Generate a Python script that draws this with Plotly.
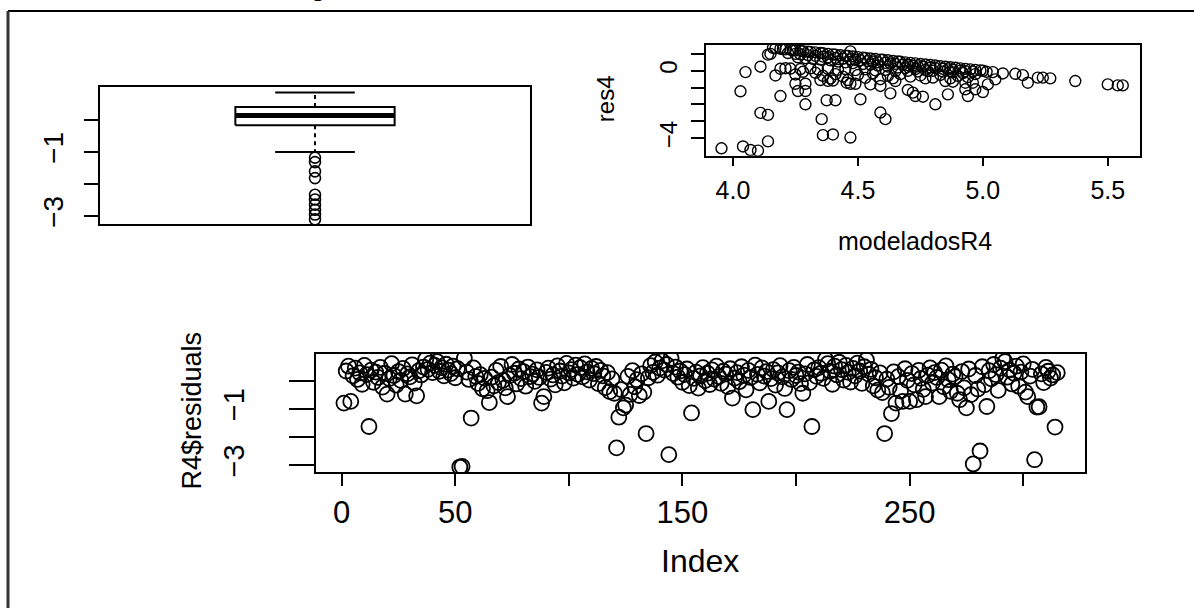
import plotly.graph_objects as go

# ---------------- data ----------------
# residuals of model R4 (bottom panel, index 1..315)
residuals_r4 = [
    -0.79, 0.35, 0.52, -0.73, 0.18, 0.45, 0.05, 0.28, -0.12, 0.55, 0.22, -1.62, 0.38, -0.05, 0.31,
    0.12, 0.48, -0.22, 0.27, -0.47, 0.08, 0.61, 0.19, -0.15, 0.33, 0.02, 0.44, -0.47, 0.25, 0.14,
    0.57, -0.08, -0.53, 0.36, 0.21, 0.49, 0.76, 0.41, 0.63, 0.29, 0.55, 0.68, 0.34, 0.47, 0.18,
    0.59, 0.38, 0.26, 0.52, 0.11, 0.43, -3.06, -3.04, 0.80, 0.31, 0.05, -1.32, 0.46, 0.16, -0.09,
    0.22, -0.28, 0.09, -0.35, -0.77, 0.13, -0.18, 0.37, -0.06, 0.51, 0.02, -0.25, -0.56, 0.19, 0.58,
    0.27, -0.11, 0.42, 0.08, 0.33, -0.19, 0.49, 0.15, 0.24, -0.02, 0.39, 0.12, -0.79, -0.56, 0.30,
    0.45, 0.06, 0.21, -0.14, 0.53, 0.35, 0.17, -0.07, 0.62, 0.28, 0.40, 0.10, 0.56, 0.23, 0.47,
    0.14, 0.60, 0.32, 0.03, 0.44, 0.26, 0.51, -0.10, 0.37, 0.18, -0.24, 0.29, -0.38, 0.07, -0.44,
    -2.38, -1.29, -0.31, -0.96, -0.86, 0.16, -0.48, 0.36, -0.21, 0.04, -0.52, 0.25, -0.40, -1.87, 0.11,
    0.54, 0.30, 0.67, 0.20, 0.45, 0.71, 0.38, 0.58, -2.62, 0.80, 0.26, 0.49, 0.13, 0.35, -0.05,
    0.22, 0.42, -0.17, -1.14, 0.09, 0.31, -0.26, 0.18, 0.47, 0.01, 0.27, -0.13, 0.39, 0.06, 0.52,
    0.15, -0.09, 0.34, 0.24, -0.20, 0.43, -0.61, 0.10, 0.29, -0.03, 0.50, 0.20, -0.32, 0.37, 0.12,
    -1.02, 0.56, 0.23, -0.07, 0.46, 0.17, 0.33, -0.73, 0.08, 0.40, -0.15, 0.28, 0.54, 0.14, -0.27,
    -1.02, 0.36, 0.05, 0.48, 0.19, 0.31, -0.10, -0.44, 0.25, 0.58, -0.06, -1.62, 0.39, 0.16, 0.47,
    0.27, 0.09, 0.76, 0.61, 0.34, -0.12, 0.52, 0.21, 0.66, 0.40, 0.03, 0.55, 0.30, -0.04, 0.44,
    0.18, 0.63, 0.35, -0.09, 0.50, 0.74, 0.24, 0.41, -0.18, 0.11, -0.33, 0.28, -0.42, -1.87, 0.06,
    -0.23, -1.16, 0.32, -0.79, 0.15, -0.36, -0.73, 0.43, 0.02, -0.73, 0.26, -0.14, -0.67, 0.37, 0.09,
    -0.30, -0.56, 0.20, 0.46, -0.08, 0.29, 0.12, -0.56, 0.38, -0.21, 0.53, 0.04, -0.37, 0.24, 0.15,
    -0.44, -0.67, 0.33, -0.25, -0.96, 0.42, -0.49, -2.95, 0.19, -0.29, -2.49, 0.50, -0.14, -0.91, 0.36,
    0.07, 0.58, 0.22, -0.34, 0.45, 0.80, 0.68, 0.13, 0.38, -0.11, 0.27, 0.52, -0.19, 0.31, 0.60,
    -0.40, -0.56, 0.17, 0.41, -2.80, -0.93, -0.92, 0.25, -0.06, 0.48, 0.34, 0.10, 0.21, -1.64, 0.29,
]
index_r4 = list(range(1, len(residuals_r4) + 1))

# boxplot statistics
box_whisker_low = -0.99
box_q1 = -0.16
box_median = 0.15
box_q3 = 0.41
box_whisker_high = 0.87
box_outliers = [-1.17, -1.31, -1.60, -1.81, -2.33, -2.48, -2.64, -2.80, -2.95, -3.10]

# res4 vs modeladosR4 (top-right panel)
modelados_r4 = [
    4.16, 4.17, 4.19, 4.20, 4.21, 4.23, 4.24, 4.25, 4.27, 4.28, 4.30, 4.31, 4.33, 4.35, 4.36, 4.38,
    4.40, 4.41, 4.43, 4.45, 4.46, 4.48, 4.50, 4.52, 4.53, 4.55, 4.57, 4.59, 4.60, 4.62, 4.64, 4.66,
    4.67, 4.69, 4.71, 4.73, 4.75, 4.77, 4.79, 4.81, 4.83, 4.85, 4.87, 4.89, 4.91, 4.93, 4.95, 4.97,
    4.99, 5.00,
    4.22, 4.25, 4.27, 4.30, 4.33, 4.36, 4.38, 4.41, 4.44, 4.47, 4.49, 4.51, 4.54, 4.56, 4.58, 4.61,
    4.63, 4.65, 4.68, 4.70, 4.72, 4.74, 4.76, 4.79, 4.81, 4.84, 4.86, 4.88, 4.91, 4.93, 4.96,
    4.26, 4.29, 4.32, 4.35, 4.39, 4.42, 4.45, 4.48, 4.52, 4.55, 4.58, 4.62, 4.66, 4.69, 4.73, 4.77,
    4.80, 4.84, 4.88, 4.92,
    4.19, 4.21, 4.23, 4.27, 4.31, 4.34, 4.38, 4.42, 4.45, 4.49, 4.53, 4.57, 4.61, 4.65, 4.70, 4.74,
    4.78,
    4.25, 4.28, 4.33, 4.36, 4.39, 4.41, 4.44, 4.46, 4.50, 4.53, 4.56, 4.59, 4.62, 4.64, 4.67, 4.71,
    4.75, 4.80, 4.83, 4.87, 4.90, 4.94, 4.97,
    4.35, 4.38, 4.40, 4.455, 4.47, 4.49, 4.55, 4.59, 4.65, 4.85, 4.88, 4.93, 4.96, 5.02,
    3.954, 4.04, 4.07, 4.10, 4.14, 4.11, 4.14, 4.03, 4.05, 4.11, 4.14, 4.15, 4.17, 4.19, 4.25, 4.26,
    4.29, 4.29, 4.29, 4.355, 4.375, 4.41, 4.36, 4.40, 4.47, 4.51, 4.59, 4.61, 4.63, 4.70, 4.72, 4.73,
    4.76, 4.77, 4.81, 4.86, 4.93, 4.94, 4.97, 5.00, 5.015, 5.04, 5.05, 5.08, 5.13, 5.16, 5.18, 5.22,
    5.24, 5.27, 5.37, 5.50, 5.54, 5.56, 4.47,
]
res4 = [
    1.36, 1.33, 1.31, 1.29, 1.27, 1.25, 1.22, 1.21, 1.18, 1.16, 1.13, 1.12, 1.09, 1.05, 1.04, 1.00,
    0.97, 0.96, 0.92, 0.89, 0.88, 0.85, 0.81, 0.78, 0.76, 0.73, 0.70, 0.66, 0.65, 0.62, 0.58, 0.55,
    0.53, 0.50, 0.47, 0.44, 0.40, 0.37, 0.34, 0.31, 0.27, 0.24, 0.21, 0.18, 0.14, 0.11, 0.08, 0.05,
    0.02, 0.00,
    1.05, 1.00, 0.98, 0.93, 0.88, 0.84, 0.80, 0.76, 0.72, 0.68, 0.64, 0.62, 0.57, 0.55, 0.50, 0.47,
    0.43, 0.41, 0.36, 0.33, 0.30, 0.26, 0.24, 0.19, 0.16, 0.12, 0.08, 0.05, 0.01, -0.02, -0.05,
    0.80, 0.75, 0.70, 0.66, 0.62, 0.55, 0.50, 0.45, 0.40, 0.36, 0.31, 0.25, 0.19, 0.15, 0.10, 0.05,
    0.00, -0.05, -0.10, -0.14,
    0.12, 0.15, 0.13, 0.10, 0.14, 0.08, 0.11, 0.06, 0.10, 0.04, 0.08, 0.02, 0.05, -0.02, 0.00, -0.04,
    -0.02,
    -0.22, -0.06, -0.12, -0.30, -0.45, -0.20, -0.35, -0.55, -0.25, -0.42, -0.15, -0.50, -0.30, -0.45,
    -0.20, -0.35, -0.28, -0.40, -0.25, -0.45, -0.30, -0.38, -0.20,
    -0.55, -0.60, -0.58, -0.71, -0.77, -0.77, -0.81, -0.90, -0.61, -0.61, -0.65, -0.71, -0.71, -0.81,
    -4.60, -4.49, -4.70, -4.74, -4.19, -2.50, -2.62, -1.22, -0.08, 0.24, 0.96, 1.00, -0.28, -1.50,
    -0.77, -1.20, -1.20, -0.77, -1.99, -2.87, -1.75, -1.75, -3.82, -3.78, -3.96, -1.69, -2.48, -2.87,
    -1.34, -1.14, -1.30, -1.50, -1.54, -0.45, -1.99, -1.40, -1.10, -1.50, -1.10, -1.26, -0.06, -0.08,
    -0.51, -0.16, -0.18, -0.26, -0.71, -0.41, -0.41, -0.45, -0.61, -0.81, -0.87, -0.87, 1.15,
]

# tick labels
box_ytick_vals = [0, -1, -2, -3]
box_ytick_text = ["", "\u22121", "", "\u22123"]
sc_xtick_vals = [4.0, 4.5, 5.0, 5.5]
sc_xtick_text = ["4.0", "4.5", "5.0", "5.5"]
sc_ytick_vals = [1, 0, -1, -2, -3, -4]
sc_ytick_text = ["", "0", "", "", "", "\u22124"]
idx_xtick_vals = [0, 50, 100, 150, 200, 250, 300]
idx_xtick_text = ["0", "50", "", "150", "", "250", ""]
idx_ytick_vals = [0, -1, -2, -3]
idx_ytick_text = ["", "\u22121", "", "\u22123"]

# ---------------- figure ----------------
W, H = 1194, 613
FONT = "Liberation Sans, Arial, sans-serif"
BLACK = "black"


def px_x(a, b):
    return [a / W, b / W]


def px_y(top, bottom):
    return [1 - bottom / H, 1 - top / H]


fig = go.Figure()

# --- boxplot (top-left) ---
line_kw = dict(color=BLACK, width=2)
fig.add_trace(go.Scatter(x=[0.8, 1.2, 1.2, 0.8, 0.8],
                         y=[box_q1, box_q1, box_q3, box_q3, box_q1],
                         mode="lines", line=line_kw, xaxis="x", yaxis="y"))
fig.add_trace(go.Scatter(x=[0.8, 1.2], y=[box_median, box_median], mode="lines",
                         line=dict(color=BLACK, width=5), xaxis="x", yaxis="y"))
for a, b in [(box_q3, box_whisker_high), (box_q1, box_whisker_low)]:
    fig.add_trace(go.Scatter(x=[1, 1], y=[a, b], mode="lines",
                             line=dict(color=BLACK, width=2, dash="4px,4px"),
                             xaxis="x", yaxis="y"))
for v in [box_whisker_high, box_whisker_low]:
    fig.add_trace(go.Scatter(x=[0.9, 1.1], y=[v, v], mode="lines", line=line_kw,
                             xaxis="x", yaxis="y"))
fig.add_trace(go.Scatter(x=[1] * len(box_outliers), y=box_outliers, mode="markers",
                         marker=dict(symbol="circle-open", size=11, color=BLACK,
                                     line=dict(width=1.6, color=BLACK)),
                         xaxis="x", yaxis="y"))

# --- res4 vs modeladosR4 (top-right) ---
fig.add_trace(go.Scatter(x=modelados_r4, y=res4, mode="markers",
                         marker=dict(symbol="circle-open", size=11, color=BLACK,
                                     line=dict(width=1.4, color=BLACK)),
                         xaxis="x2", yaxis="y2"))

# --- index plot (bottom) ---
fig.add_trace(go.Scatter(x=index_r4, y=residuals_r4, mode="markers",
                         marker=dict(symbol="circle-open", size=15, color=BLACK,
                                     line=dict(width=1.8, color=BLACK)),
                         xaxis="x3", yaxis="y3"))

frame = dict(showline=True, mirror=True, linecolor=BLACK, linewidth=2,
             showgrid=False, zeroline=False, tickcolor=BLACK, tickwidth=2,
             fixedrange=True)

fig.update_layout(
    width=W, height=H,
    margin=dict(l=0, r=0, t=0, b=0),
    paper_bgcolor="white", plot_bgcolor="white",
    showlegend=False,
    font=dict(family=FONT, color=BLACK),
    xaxis=dict(domain=px_x(100, 530), range=[0.46, 1.54], showticklabels=False,
               ticks="", anchor="y", **frame),
    yaxis=dict(domain=px_y(88, 226), range=[-3.25, 1.03], tickvals=box_ytick_vals,
               ticktext=box_ytick_text, ticks="outside", ticklen=14, tickangle=-90,
               tickfont=dict(size=28, family=FONT), ticklabelstandoff=10,
               anchor="x", **frame),
    xaxis2=dict(domain=px_x(706, 1140), range=[3.892, 5.629], tickvals=sc_xtick_vals,
                ticktext=sc_xtick_text, ticks="outside", ticklen=8,
                tickfont=dict(size=25, family=FONT), ticklabelstandoff=3,
                anchor="y2", **frame),
    yaxis2=dict(domain=px_y(45, 157), range=[-5.04, 1.55], tickvals=sc_ytick_vals,
                ticktext=sc_ytick_text, ticks="outside", ticklen=13, tickangle=-90,
                tickfont=dict(size=24, family=FONT), ticklabelstandoff=4,
                anchor="x2", **frame),
    xaxis3=dict(domain=px_x(316, 1085), range=[-11.3, 327.2], tickvals=idx_xtick_vals,
                ticktext=idx_xtick_text, ticks="outside", ticklen=12,
                tickfont=dict(size=31, family=FONT), ticklabelstandoff=0,
                anchor="y3", **frame),
    yaxis3=dict(domain=px_y(357, 476), range=[-3.24, 0.95], tickvals=idx_ytick_vals,
                ticktext=idx_ytick_text, ticks="outside", ticklen=25, tickangle=-90,
                tickfont=dict(size=29, family=FONT), ticklabelstandoff=33,
                anchor="x3", **frame),
)

# axis titles
titles = [
    dict(text="res4", x=605 / W, y=1 - 100 / H, textangle=-90, size=24),
    dict(text="modeladosR4", x=915 / W, y=1 - 243 / H, textangle=0, size=25),
    dict(text="Index", x=700 / W, y=1 - 566 / H, textangle=0, size=32),
    dict(text="R4$residuals", x=192 / W, y=1 - 414 / H, textangle=-90, size=27),
]
for t in titles:
    fig.add_annotation(text=t["text"], x=t["x"], y=t["y"], xref="paper", yref="paper",
                       xanchor="center", yanchor="middle", showarrow=False,
                       textangle=t["textangle"], font=dict(size=t["size"], family=FONT, color=BLACK))

# descender of a clipped heading line above the visible area
fig.add_annotation(text="g", x=318 / W, y=1 - 4 / H, xref="paper", yref="paper",
                   xanchor="center", yanchor="bottom", showarrow=False,
                   font=dict(size=26, family=FONT, color=BLACK))

# outer device frame (top and left edges visible)
fig.add_shape(type="line", xref="paper", yref="paper", x0=8 / W, x1=1.0, y0=1 - 11 / H, y1=1 - 11 / H,
              line=dict(color=BLACK, width=2))
fig.add_shape(type="line", xref="paper", yref="paper", x0=8 / W, x1=8 / W, y0=0, y1=1 - 11 / H,
              line=dict(color="#333333", width=3))

fig.write_html("out.html", config={"displayModeBar": False},
               post_script="document.body.style.margin='0';document.body.style.overflow='hidden';")
